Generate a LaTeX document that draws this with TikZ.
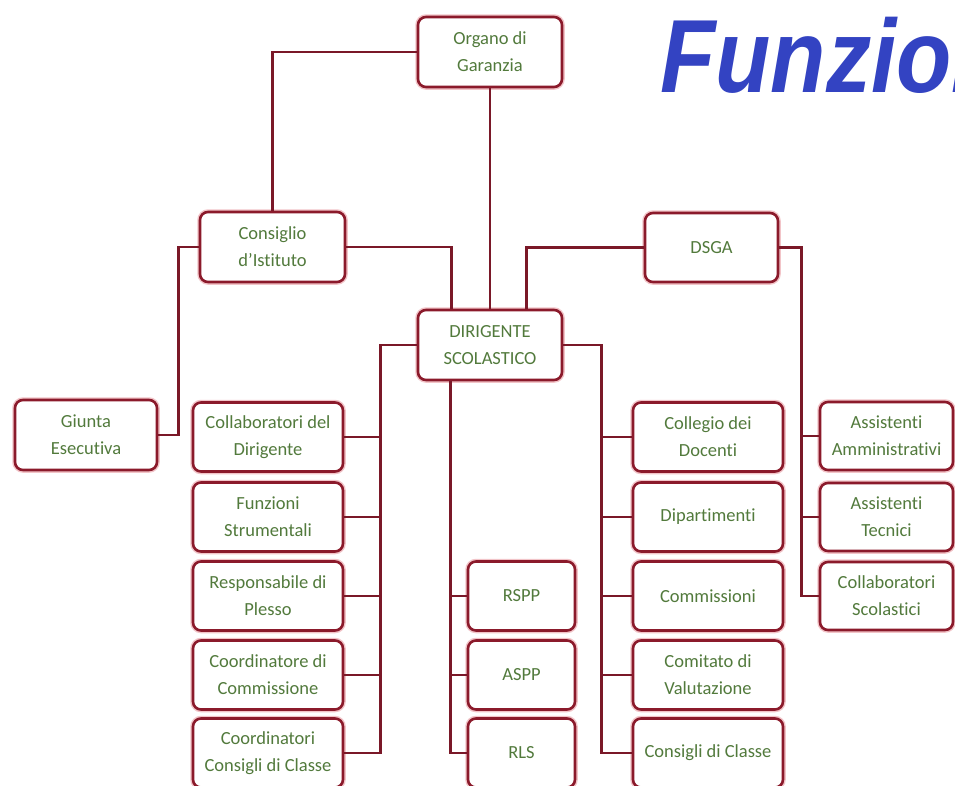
\documentclass[tikz,border=0pt]{standalone}
\usepackage{fontspec}
\setmainfont[Ligatures=NoCommon]{Carlito}
\newfontfamily\titlefont{Liberation Sans}
\usetikzlibrary{calc}
\definecolor{boxred}{HTML}{8B1A2B}
\definecolor{linered}{HTML}{7A1828}
\definecolor{glow}{HTML}{F2C4C8}
\definecolor{txtgreen}{HTML}{527A3C}
\definecolor{titleblue}{HTML}{3343C2}
\tikzset{
  orgbox/.style={draw=boxred, line width=2.6pt, rounded corners=8pt, fill=white,
    preaction={draw=glow, line width=5.5pt},
    text=txtgreen, align=center, inner sep=0pt,
    font=\fontsize{18.5}{27}\selectfont},
  conn/.style={draw=linered, line width=2.8pt}
}
\begin{document}
\begin{tikzpicture}[x=1pt,y=-1pt]
\useasboundingbox[fill=white] (0,0) rectangle (955,785);
% title (cut at the right edge, as in the reference)
\begin{scope}
\clip (0,0) rectangle (955,785);
\node[anchor=base west, inner sep=0pt, text=titleblue] (title) at (660,92)
  {\scalebox{0.87}[1]{\titlefont\bfseries\itshape\fontsize{104}{104}\selectfont Funzion}};
\end{scope}
% nodes
\node[orgbox, minimum width=144pt, minimum height=70pt] (org) at (490,52) {Organo di\\Garanzia};
\node[orgbox, minimum width=145pt, minimum height=70pt] (cons) at (272.5,247) {Consiglio\\d’Istituto};
\node[orgbox, minimum width=144pt, minimum height=70pt] (dir) at (490,345) {DIRIGENTE\\SCOLASTICO};
\node[orgbox, minimum width=133pt, minimum height=69pt] (dsga) at (711.5,247.5) {DSGA};
\node[orgbox, minimum width=142pt, minimum height=70pt] (giunta) at (86,435) {Giunta\\Esecutiva};
% left column
\node[orgbox, minimum width=150pt, minimum height=69pt] (l1) at (268,437) {Collaboratori del\\Dirigente};
\node[orgbox, minimum width=150pt, minimum height=69pt] (l2) at (268,517) {Funzioni\\Strumentali};
\node[orgbox, minimum width=150pt, minimum height=69pt] (l3) at (268,596) {Responsabile di\\Plesso};
\node[orgbox, minimum width=150pt, minimum height=69pt] (l4) at (268,675) {Coordinatore di\\Commissione};
\node[orgbox, minimum width=150pt, minimum height=69pt] (l5) at (268,753) {Coordinatori\\Consigli di Classe};
% middle column
\node[orgbox, minimum width=107pt, minimum height=69pt] (m1) at (521.5,596) {RSPP};
\node[orgbox, minimum width=107pt, minimum height=69pt] (m2) at (521.5,675) {ASPP};
\node[orgbox, minimum width=107pt, minimum height=69pt] (m3) at (521.5,753) {RLS};
% right column
\node[orgbox, minimum width=150pt, minimum height=69pt] (r1) at (708,437) {Collegio dei\\Docenti};
\node[orgbox, minimum width=150pt, minimum height=69pt] (r2) at (708,517) {Dipartimenti};
\node[orgbox, minimum width=150pt, minimum height=69pt] (r3) at (708,596) {Commissioni};
\node[orgbox, minimum width=150pt, minimum height=69pt] (r4) at (708,675) {Comitato di\\Valutazione};
\node[orgbox, minimum width=150pt, minimum height=69pt] (r5) at (708,753) {Consigli di Classe};
% far right column
\node[orgbox, minimum width=133pt, minimum height=68pt] (a1) at (886.5,436) {Assistenti\\Amministrativi};
\node[orgbox, minimum width=133pt, minimum height=68pt] (a2) at (886.5,517) {Assistenti\\Tecnici};
\node[orgbox, minimum width=133pt, minimum height=68pt] (a3) at (886.5,596) {Collaboratori\\Scolastici};
% connector coordinates
\coordinate (dirA) at ($(dir.north west)+(35,0)$);
\coordinate (dirB) at ($(dir.north west)+(110,0)$);
\coordinate (dirS) at ($(dir.south west)+(34,0)$);
% connectors
\draw[conn] (org.west) -| (cons.north);
\draw[conn] (org.south) -- (dir.north);
\draw[conn] (cons.east) -| (dirA);
\draw[conn] (cons.west) -- ++(-20,0) |- (giunta.east);
\draw[conn] (dsga.west) -| (dirB);
\draw[conn] (dsga.east) -- ++(22,0) |- (a3.west);
\draw[conn] (dsga.east) ++(22,0) |- (a1.west);
\draw[conn] (dsga.east) ++(22,0) |- (a2.west);
\draw[conn] (dir.west) -- ++(-36,0) |- (l5.east);
\foreach \n in {l1,l2,l3,l4} \draw[conn] (dir.west) ++(-36,0) |- (\n.east);
\draw[conn] (dir.east) -- ++(38,0) |- (r5.west);
\foreach \n in {r1,r2,r3,r4} \draw[conn] (dir.east) ++(38,0) |- (\n.west);
\draw[conn] (dirS) |- (m3.west);
\draw[conn] (dirS) |- (m1.west);
\draw[conn] (dirS) |- (m2.west);
\end{tikzpicture}
\end{document}
